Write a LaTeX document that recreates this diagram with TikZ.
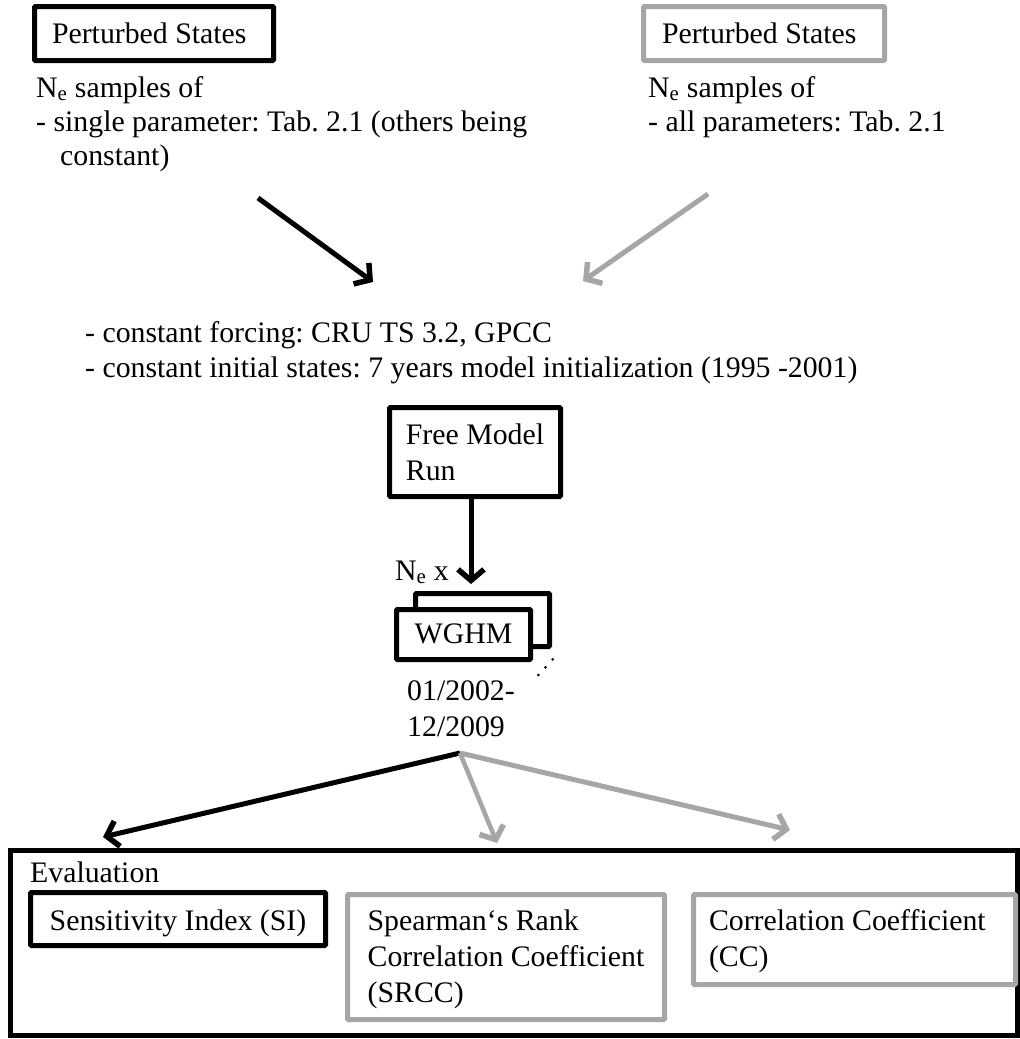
\documentclass[tikz,border=0pt]{standalone}
\usepackage{fontspec}
\setmainfont{Liberation Serif}
\usetikzlibrary{arrows.meta}
\definecolor{lgray}{RGB}{166,166,166}
\begin{document}
\frenchspacing
\begin{tikzpicture}[x=1pt,y=-1pt,
  every node/.style={font=\fontsize{29.8}{36}\selectfont},
  txt/.style={anchor=base west, inner sep=0pt},
  bbox/.style={draw=black, line width=5pt, rounded corners=1pt, fill=white},
  gbox/.style={draw=lgray, line width=5pt, rounded corners=1pt, fill=white},
  tipstyle/.style={-{Straight Barb[length=11pt,width=26pt,line width=5.5pt,line join=miter]}},
  barr/.style={draw=black, line width=5pt, tipstyle},
  garr/.style={draw=lgray, line width=5pt, tipstyle}]
\useasboundingbox (0,0) rectangle (1020,1039);

% top boxes
\node[bbox, minimum width=239pt, minimum height=54pt, inner xsep=17.5pt,
      text width=204pt, align=flush left, text height=24pt, text depth=5pt]
      (ps1) at (154,33.5) {Perturbed States};
\node[gbox, minimum width=241pt, minimum height=54pt, inner xsep=18.5pt,
      text width=204pt, align=flush left, text height=24pt, text depth=5pt]
      (ps2) at (764,33.5) {Perturbed States};

% left description
\node[txt] (l1) at (36,97) {N\textsubscript{e} samples of};
\node[txt] (l2) at (36,131) {- single parameter: Tab. 2.1 (others being};
\node[txt] (l3) at (60,165) {constant)};

% right description
\node[txt] (r1) at (648,97) {N\textsubscript{e} samples of};
\node[txt] (r2) at (648,131) {- all parameters: Tab. 2.1};

% top arrows
\coordinate (a1s) at (258,198);
\coordinate (a1t) at (373,282);
\coordinate (a2s) at (708,194);
\coordinate (a2t) at (583,281);
\draw[barr] (a1s) -- (a1t);
\draw[garr] (a2s) -- (a2t);

% centre text
\node[txt] (c1) at (85,342) {- constant forcing: CRU TS 3.2, GPCC};
\node[txt] (c2) at (85,377) {- constant initial states: 7 years model initialization (1995 -2001)};

% free model run
\node[bbox, minimum width=171pt, minimum height=89pt, align=flush left,
      text height=59pt, text depth=3pt]
      (free) at (475,452) {Free Model\\Run};

% WGHM stack
\node[bbox, minimum width=134pt, minimum height=53pt] (wback) at (482.5,620) {};
\node[bbox, minimum width=134pt, minimum height=50pt, text height=22pt, text depth=5pt]
      (wfront) at (463.5,634.5) {WGHM};
\coordinate (fat) at (471,584);
\draw[barr] (free.south -| fat) -- (fat);
\node[txt] (nex) at (395,580) {N\textsubscript{e} x};
\fill (538.3,675) circle (1.5pt);
\fill (545.5,667.3) circle (1.5pt);
\fill (552.7,659.3) circle (1.5pt);

\node[txt] (d1) at (407,700) {01/2002-};
\node[txt] (d2) at (407,736) {12/2009};

% bottom arrows
\coordinate (o) at (460,753);
\coordinate (t1) at (103,837);
\coordinate (t2) at (497,843);
\coordinate (t3) at (790,830);
\draw[barr] (o) -- (t1);
\draw[garr, line width=4.5pt] (o) -- (t2);
\draw[garr] (o) -- (t3);

% evaluation
\node[draw=black, line width=5pt, minimum width=1006.5pt, minimum height=185pt]
      (eval) at (513.75,943) {};
\node[txt] (evl) at (30,882) {Evaluation};
\node[bbox, minimum width=295pt, minimum height=53pt, text height=26pt, text depth=4pt]
      (si) at (178,919) {Sensitivity Index (SI)};
\node[gbox, minimum width=317pt, minimum height=125pt, align=flush left,
      text height=96pt, text depth=6pt]
      (srcc) at (506,957) {Spearman‘s Rank\\Correlation Coefficient\\(SRCC)};
\node[gbox, minimum width=322pt, minimum height=90pt, text width=291pt, align=flush left,
      text height=23pt, text depth=42pt]
      (cc) at (854.5,939.5) {Correlation Coefficient\\(CC)};
\end{tikzpicture}
\end{document}
